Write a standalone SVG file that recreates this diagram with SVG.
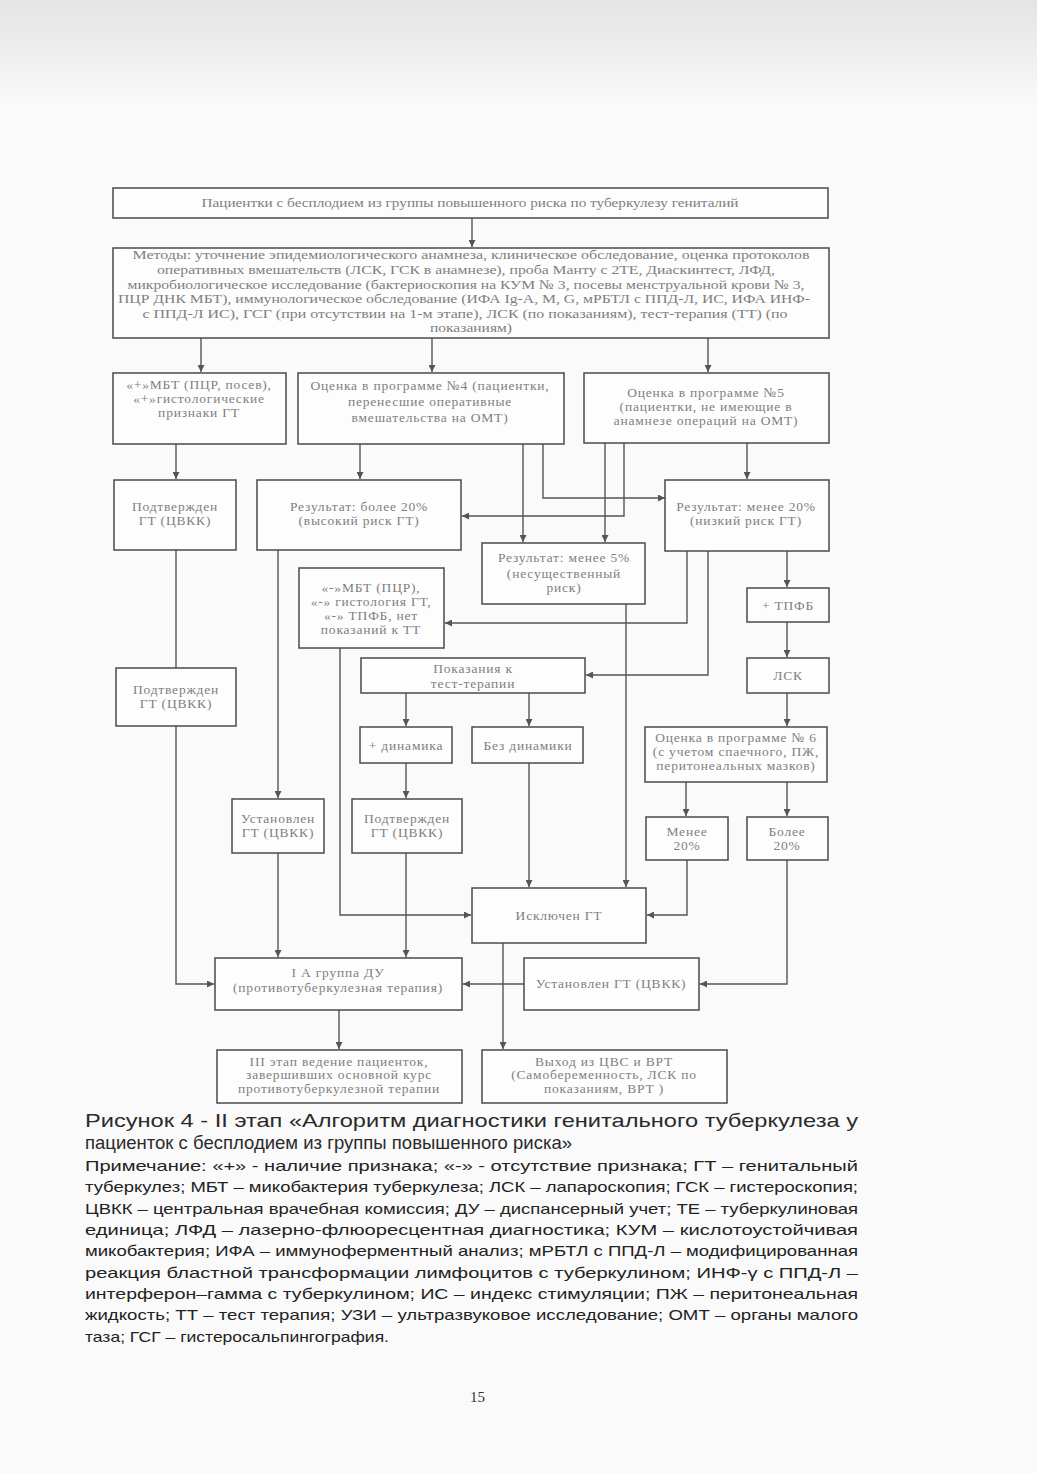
<svg xmlns="http://www.w3.org/2000/svg" width="1037" height="1473" viewBox="0 0 1037 1473">
<defs>
<linearGradient id="bg" x1="0" y1="0" x2="0" y2="1">
<stop offset="0" stop-color="#e4e4e4"/>
<stop offset="1" stop-color="#fafafa"/>
</linearGradient>
<marker id="ar" viewBox="0 0 8 8" refX="8" refY="4" markerWidth="7" markerHeight="7" markerUnits="userSpaceOnUse" orient="auto">
<path d="M0,0 L8,4 L0,8 z" fill="#555"/>
</marker>
<style>
.b{fill:#fdfdfd;stroke:#4a4a4a;stroke-width:1.5}
.t{font-family:"Liberation Serif","DejaVu Serif",serif;font-size:13.5px;letter-spacing:0.8px;fill:#808080;text-anchor:middle}
.m{letter-spacing:0}
.c{fill:none;stroke:#555;stroke-width:1.4}
.cap{font-family:"Liberation Sans Narrow","Liberation Sans",sans-serif;font-size:19px;fill:#2a2a2a}
.n{font-family:"Liberation Sans Narrow","Liberation Sans",sans-serif;font-size:14.5px;fill:#222}
</style>
</defs>
<rect x="0" y="0" width="1037" height="1473" fill="#fafafa"/>
<rect x="0" y="0" width="1037" height="110" fill="url(#bg)"/>

<g id="connectors">
<path class="c" d="M472,218 V247" marker-end="url(#ar)"/>
<path class="c" d="M201,338 V372" marker-end="url(#ar)"/>
<path class="c" d="M432,338 V372" marker-end="url(#ar)"/>
<path class="c" d="M708,338 V372" marker-end="url(#ar)"/>
<path class="c" d="M176,444 V479" marker-end="url(#ar)"/>
<path class="c" d="M360,444 V479" marker-end="url(#ar)"/>
<path class="c" d="M523,444 V542" marker-end="url(#ar)"/>
<path class="c" d="M543,444 V498 H665" marker-end="url(#ar)"/>
<path class="c" d="M624,443 V516 H462" marker-end="url(#ar)"/>
<path class="c" d="M605,443 V542" marker-end="url(#ar)"/>
<path class="c" d="M747,443 V479" marker-end="url(#ar)"/>
<path class="c" d="M176,550 V668"/>
<path class="c" d="M176,726 V984 H214" marker-end="url(#ar)"/>
<path class="c" d="M278,550 V798" marker-end="url(#ar)"/>
<path class="c" d="M278,853 V957" marker-end="url(#ar)"/>
<path class="c" d="M340,648 V915 H471" marker-end="url(#ar)"/>
<path class="c" d="M687,551 V623 H445" marker-end="url(#ar)"/>
<path class="c" d="M708,551 V675 H586" marker-end="url(#ar)"/>
<path class="c" d="M787,551 V587" marker-end="url(#ar)"/>
<path class="c" d="M787,622 V657" marker-end="url(#ar)"/>
<path class="c" d="M787,693 V726" marker-end="url(#ar)"/>
<path class="c" d="M686,782 V816" marker-end="url(#ar)"/>
<path class="c" d="M787,782 V816" marker-end="url(#ar)"/>
<path class="c" d="M626,604 V887" marker-end="url(#ar)"/>
<path class="c" d="M406,693 V726" marker-end="url(#ar)"/>
<path class="c" d="M529,693 V726" marker-end="url(#ar)"/>
<path class="c" d="M406,763 V798" marker-end="url(#ar)"/>
<path class="c" d="M406,853 V957" marker-end="url(#ar)"/>
<path class="c" d="M529,763 V887" marker-end="url(#ar)"/>
<path class="c" d="M687,860 V915 H647" marker-end="url(#ar)"/>
<path class="c" d="M787,860 V984 H700" marker-end="url(#ar)"/>
<path class="c" d="M524,984 H463" marker-end="url(#ar)"/>
<path class="c" d="M503,943 V1049" marker-end="url(#ar)"/>
<path class="c" d="M339,1010 V1049" marker-end="url(#ar)"/>
</g>

<g id="n_top">
<rect class="b" x="113" y="188" width="715" height="30"/>
<text class="t m" x="470" y="207" textLength="537" lengthAdjust="spacingAndGlyphs">Пациентки с бесплодием из группы повышенного риска по туберкулезу гениталий</text>
</g>
<g id="n_methods">
<rect class="b" x="113" y="248" width="716" height="90"/>
<text class="t m" x="471" y="259" textLength="677" lengthAdjust="spacingAndGlyphs">Методы: уточнение эпидемиологического анамнеза, клиническое обследование, оценка протоколов</text>
<text class="t m" x="466" y="274" textLength="618" lengthAdjust="spacingAndGlyphs">оперативных вмешательств (ЛСК, ГСК в анамнезе), проба Манту с 2ТЕ, Диаскинтест, ЛФД,</text>
<text class="t m" x="466" y="289" textLength="677" lengthAdjust="spacingAndGlyphs">микробиологическое исследование (бактериоскопия на КУМ № 3, посевы менструальной крови № 3,</text>
<text class="t m" x="464" y="303" textLength="692" lengthAdjust="spacingAndGlyphs">ПЦР ДНК МБТ), иммунологическое обследование (ИФА Ig-A, M, G, мРБТЛ с ППД-Л, ИС, ИФА ИНФ-</text>
<text class="t m" x="465" y="318" textLength="645" lengthAdjust="spacingAndGlyphs">с ППД-Л ИС), ГСГ (при отсутствии на 1-м этапе), ЛСК (по показаниям), тест-терапия (ТТ) (по</text>
<text class="t m" x="471" y="332" textLength="82" lengthAdjust="spacingAndGlyphs">показаниям)</text>
</g>
<g id="n_a">
<rect class="b" x="113" y="373" width="173" height="71"/>
<text class="t" x="199" y="389">«+»МБТ (ПЦР, посев),</text>
<text class="t" x="199" y="403">«+»гистологические</text>
<text class="t" x="199" y="417">признаки ГТ</text>
</g>
<g id="n_b">
<rect class="b" x="298" y="373" width="266" height="71"/>
<text class="t" x="430" y="390">Оценка в программе №4 (пациентки,</text>
<text class="t" x="430" y="406">перенесшие оперативные</text>
<text class="t" x="430" y="422">вмешательства на ОМТ)</text>
</g>
<g id="n_c">
<rect class="b" x="584" y="373" width="245" height="70"/>
<text class="t" x="706" y="397">Оценка в программе №5</text>
<text class="t" x="706" y="411">(пациентки, не имеющие в</text>
<text class="t" x="706" y="425">анамнезе операций на ОМТ)</text>
</g>
<g id="n_conf1">
<rect class="b" x="114" y="480" width="122" height="70"/>
<text class="t" x="175" y="511">Подтвержден</text>
<text class="t" x="175" y="525">ГТ (ЦВКК)</text>
</g>
<g id="n_high">
<rect class="b" x="257" y="480" width="204" height="70"/>
<text class="t" x="359" y="511">Результат: более 20%</text>
<text class="t" x="359" y="525">(высокий риск ГТ)</text>
</g>
<g id="n_low">
<rect class="b" x="665" y="480" width="164" height="71"/>
<text class="t" x="746" y="511">Результат: менее 20%</text>
<text class="t" x="746" y="525">(низкий риск ГТ)</text>
</g>
<g id="n_5">
<rect class="b" x="482" y="543" width="163" height="61"/>
<text class="t" x="564" y="562">Результат: менее 5%</text>
<text class="t" x="564" y="578">(несущественный</text>
<text class="t" x="564" y="592">риск)</text>
</g>
<g id="n_neg">
<rect class="b" x="299" y="568" width="145" height="80"/>
<text class="t" x="371" y="592">«-»МБТ (ПЦР),</text>
<text class="t" x="371" y="606">«-» гистология ГТ,</text>
<text class="t" x="371" y="620">«-» ТПФБ, нет</text>
<text class="t" x="371" y="634">показаний к ТТ</text>
</g>
<g id="n_tpfb">
<rect class="b" x="747" y="588" width="82" height="34"/>
<text class="t" x="788" y="610">+ ТПФБ</text>
</g>
<g id="n_ind">
<rect class="b" x="361" y="658" width="224" height="35"/>
<text class="t" x="473" y="673">Показания к</text>
<text class="t" x="473" y="688">тест-терапии</text>
</g>
<g id="n_lsk">
<rect class="b" x="747" y="658" width="82" height="35"/>
<text class="t" x="788" y="680">ЛСК</text>
</g>
<g id="n_conf2">
<rect class="b" x="116" y="668" width="120" height="58"/>
<text class="t" x="176" y="694">Подтвержден</text>
<text class="t" x="176" y="708">ГТ (ЦВКК)</text>
</g>
<g id="n_dyn">
<rect class="b" x="360" y="727" width="92" height="36"/>
<text class="t" x="406" y="750">+ динамика</text>
</g>
<g id="n_nodyn">
<rect class="b" x="472" y="727" width="111" height="36"/>
<text class="t" x="528" y="750">Без динамики</text>
</g>
<g id="n_p6">
<rect class="b" x="645" y="727" width="182" height="55"/>
<text class="t" x="736" y="742">Оценка в программе № 6</text>
<text class="t" x="736" y="756">(с учетом спаечного, ПЖ,</text>
<text class="t" x="736" y="770">перитонеальных мазков)</text>
</g>
<g id="n_est1">
<rect class="b" x="232" y="799" width="92" height="54"/>
<text class="t" x="278" y="823">Установлен</text>
<text class="t" x="278" y="837">ГТ (ЦВКК)</text>
</g>
<g id="n_conf3">
<rect class="b" x="352" y="799" width="110" height="54"/>
<text class="t" x="407" y="823">Подтвержден</text>
<text class="t" x="407" y="837">ГТ (ЦВКК)</text>
</g>
<g id="n_l20">
<rect class="b" x="646" y="817" width="82" height="43"/>
<text class="t" x="687" y="836">Менее</text>
<text class="t" x="687" y="850">20%</text>
</g>
<g id="n_m20">
<rect class="b" x="747" y="817" width="81" height="43"/>
<text class="t" x="787" y="836">Более</text>
<text class="t" x="787" y="850">20%</text>
</g>
<g id="n_excl">
<rect class="b" x="472" y="888" width="174" height="55"/>
<text class="t" x="559" y="920">Исключен ГТ</text>
</g>
<g id="n_1a">
<rect class="b" x="215" y="958" width="247" height="52"/>
<text class="t" x="338" y="977">I А группа ДУ</text>
<text class="t" x="338" y="992">(противотуберкулезная терапия)</text>
</g>
<g id="n_est2">
<rect class="b" x="524" y="958" width="175" height="52"/>
<text class="t" x="611" y="988">Установлен ГТ (ЦВКК)</text>
</g>
<g id="n_3">
<rect class="b" x="217" y="1050" width="245" height="53"/>
<text class="t" x="339" y="1066">III этап ведение пациенток,</text>
<text class="t" x="339" y="1079">завершивших основной курс</text>
<text class="t" x="339" y="1093">противотуберкулезной терапии</text>
</g>
<g id="n_out">
<rect class="b" x="482" y="1050" width="245" height="53"/>
<text class="t" x="604" y="1066">Выход из ЦВС и ВРТ</text>
<text class="t" x="604" y="1079">(Самобеременность, ЛСК по</text>
<text class="t" x="604" y="1093">показаниям, ВРТ )</text>
</g>

<g id="caption">
<text class="cap" x="85" y="1127" textLength="773" lengthAdjust="spacingAndGlyphs">Рисунок 4 - II этап «Алгоритм диагностики генитального туберкулеза у</text>
<text class="cap" x="85" y="1149" textLength="487" lengthAdjust="spacingAndGlyphs">пациенток с бесплодием из группы повышенного риска»</text>
<text class="n" x="85" y="1171" textLength="773" lengthAdjust="spacingAndGlyphs">Примечание: «+» - наличие признака; «-» - отсутствие признака; ГТ –  генитальный</text>
<text class="n" x="85" y="1192" textLength="773" lengthAdjust="spacingAndGlyphs">туберкулез; МБТ – микобактерия туберкулеза; ЛСК – лапароскопия; ГСК – гистероскопия;</text>
<text class="n" x="85" y="1214" textLength="773" lengthAdjust="spacingAndGlyphs">ЦВКК – центральная врачебная комиссия; ДУ – диспансерный учет; ТЕ – туберкулиновая</text>
<text class="n" x="85" y="1235" textLength="773" lengthAdjust="spacingAndGlyphs">единица; ЛФД – лазерно-флюоресцентная диагностика; КУМ – кислотоустойчивая</text>
<text class="n" x="85" y="1256" textLength="773" lengthAdjust="spacingAndGlyphs">микобактерия; ИФА – иммуноферментный анализ; мРБТЛ с ППД-Л – модифицированная</text>
<text class="n" x="85" y="1278" textLength="773" lengthAdjust="spacingAndGlyphs">реакция бластной трансформации лимфоцитов с туберкулином; ИНФ-γ с ППД-Л –</text>
<text class="n" x="85" y="1299" textLength="773" lengthAdjust="spacingAndGlyphs">интерферон–гамма с туберкулином; ИС – индекс стимуляции; ПЖ – перитонеальная</text>
<text class="n" x="85" y="1320" textLength="773" lengthAdjust="spacingAndGlyphs">жидкость; ТТ – тест терапия; УЗИ – ультразвуковое исследование; ОМТ – органы малого</text>
<text class="n" x="85" y="1342" textLength="304" lengthAdjust="spacingAndGlyphs">таза; ГСГ – гистеросальпингография.</text>
<text x="470" y="1402" font-family="Liberation Serif, serif" font-size="15" fill="#333">15</text>
</g>
</svg>
